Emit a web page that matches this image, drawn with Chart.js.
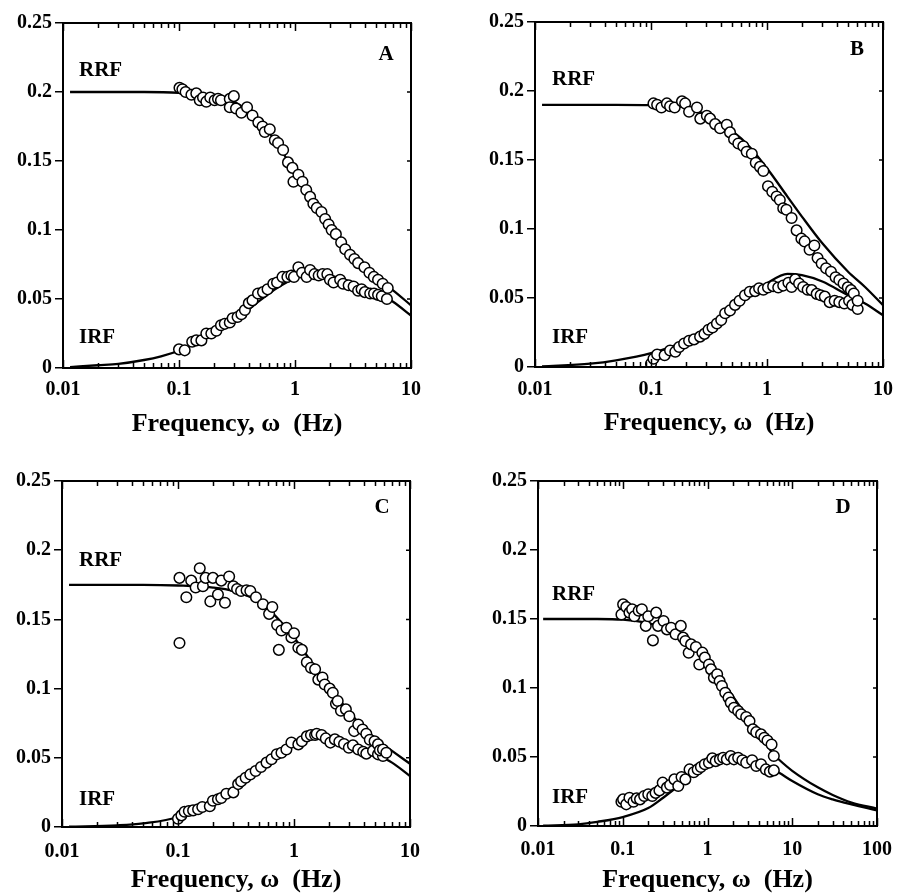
<!DOCTYPE html>
<html>
<head>
<meta charset="utf-8">
<script src="https://cdn.jsdelivr.net/npm/chart.js@4.4.1/dist/chart.umd.min.js"></script>
<style>
  body { margin: 0; background: #fff; }
  #wrap { position: relative; width: 904px; height: 896px; }
  #wrap canvas { position: absolute; }
</style>
</head>
<body>
<div id="wrap">
  <canvas id="panelA" width="452" height="448" style="left:0;top:0"></canvas>
  <canvas id="panelB" width="452" height="448" style="left:452px;top:0"></canvas>
  <canvas id="panelC" width="452" height="448" style="left:0;top:448px"></canvas>
  <canvas id="panelD" width="452" height="448" style="left:452px;top:448px"></canvas>
</div>
<script>
// axis ticks
const yTickValues = [0, 0.05, 0.1, 0.15, 0.2, 0.25];
const yTickLabels = ['0', '0.05', '0.1', '0.15', '0.2', '0.25'];
const xTickValues = [0.01, 0.1, 1, 10, 100];
const xTickLabels = ['0.01', '0.1', '1', '10', '100'];

// measured points [frequency Hz, value]
const rrfA = [[0.101,0.203],[0.107,0.202],[0.114,0.2],[0.128,0.198],[0.141,0.199],[0.151,0.194],[0.161,0.196],[0.172,0.193],[0.186,0.196],[0.203,0.194],[0.217,0.195],[0.23,0.194],[0.274,0.195],[0.297,0.197],[0.274,0.189],[0.31,0.188],[0.345,0.185],[0.386,0.189],[0.43,0.183],[0.483,0.178],[0.525,0.175],[0.549,0.171],[0.606,0.173],[0.67,0.165],[0.715,0.163],[0.79,0.158],[0.87,0.149],[0.95,0.145],[0.97,0.135],[1.07,0.14],[1.16,0.135],[1.25,0.129],[1.35,0.124],[1.44,0.119],[1.54,0.116],[1.69,0.113],[1.82,0.108],[1.95,0.104],[2.07,0.1],[2.25,0.097],[2.5,0.091],[2.71,0.086],[2.98,0.082],[3.25,0.079],[3.5,0.076],[3.97,0.073],[4.38,0.069],[4.78,0.066],[5.2,0.064],[5.7,0.061],[6.3,0.058]];
const irfA = [[0.1,0.0135],[0.112,0.0128],[0.13,0.019],[0.141,0.02],[0.156,0.02],[0.172,0.025],[0.19,0.025],[0.21,0.027],[0.23,0.031],[0.248,0.032],[0.274,0.033],[0.29,0.036],[0.32,0.037],[0.345,0.039],[0.37,0.042],[0.4,0.047],[0.43,0.049],[0.48,0.054],[0.53,0.055],[0.58,0.057],[0.65,0.061],[0.7,0.062],[0.78,0.066],[0.86,0.066],[0.93,0.067],[0.98,0.066],[1.07,0.073],[1.15,0.069],[1.26,0.066],[1.35,0.071],[1.47,0.068],[1.6,0.067],[1.73,0.068],[1.9,0.068],[2.0,0.064],[2.15,0.062],[2.45,0.064],[2.6,0.061],[2.9,0.06],[3.2,0.059],[3.5,0.056],[3.75,0.057],[4.0,0.055],[4.45,0.054],[4.8,0.054],[5.2,0.053],[5.6,0.052],[6.2,0.05]];
const rrfB = [[0.105,0.191],[0.113,0.19],[0.123,0.188],[0.137,0.191],[0.146,0.189],[0.16,0.188],[0.185,0.1925],[0.197,0.191],[0.213,0.185],[0.249,0.188],[0.266,0.18],[0.303,0.182],[0.323,0.18],[0.357,0.176],[0.394,0.173],[0.45,0.1755],[0.48,0.17],[0.52,0.165],[0.566,0.162],[0.625,0.16],[0.668,0.156],[0.74,0.1545],[0.8,0.148],[0.87,0.145],[0.93,0.142],[1.02,0.131],[1.11,0.127],[1.21,0.1235],[1.29,0.121],[1.38,0.115],[1.47,0.114],[1.63,0.108],[1.8,0.099],[1.98,0.093],[2.11,0.091],[2.33,0.085],[2.56,0.088],[2.73,0.079],[2.96,0.075],[3.23,0.0715],[3.56,0.069],[3.9,0.065],[4.2,0.063],[4.57,0.0605],[4.97,0.0577],[5.3,0.0557],[5.6,0.0533],[6.05,0.048]];
const irfB = [[0.1,0.0024],[0.105,0.006],[0.113,0.009],[0.131,0.0085],[0.146,0.012],[0.162,0.011],[0.175,0.0145],[0.193,0.017],[0.213,0.019],[0.235,0.02],[0.265,0.022],[0.289,0.024],[0.313,0.027],[0.339,0.0286],[0.37,0.0315],[0.403,0.034],[0.436,0.039],[0.48,0.041],[0.53,0.045],[0.58,0.048],[0.646,0.052],[0.71,0.0545],[0.79,0.055],[0.855,0.057],[0.93,0.056],[1.02,0.0576],[1.13,0.0586],[1.25,0.0576],[1.38,0.059],[1.53,0.061],[1.63,0.058],[1.75,0.0635],[1.89,0.0605],[2.05,0.058],[2.24,0.056],[2.43,0.0557],[2.68,0.053],[2.9,0.052],[3.15,0.051],[3.47,0.047],[3.83,0.048],[4.2,0.047],[4.64,0.046],[5.1,0.048],[5.45,0.045],[6.05,0.042]];
const rrfC = [[0.103,0.18],[0.103,0.133],[0.118,0.166],[0.13,0.178],[0.142,0.173],[0.154,0.187],[0.164,0.174],[0.173,0.18],[0.19,0.163],[0.2,0.18],[0.221,0.168],[0.236,0.178],[0.254,0.162],[0.276,0.181],[0.3,0.174],[0.323,0.172],[0.35,0.1705],[0.39,0.171],[0.42,0.1705],[0.47,0.166],[0.54,0.161],[0.61,0.154],[0.65,0.159],[0.715,0.146],[0.74,0.128],[0.78,0.142],[0.86,0.144],[0.95,0.137],[1.0,0.14],[1.09,0.1295],[1.17,0.128],[1.29,0.119],[1.4,0.115],[1.52,0.114],[1.62,0.1065],[1.76,0.108],[1.84,0.103],[2.03,0.1],[2.16,0.097],[2.3,0.089],[2.38,0.091],[2.54,0.084],[2.8,0.085],[3.0,0.08],[3.3,0.0693],[3.58,0.074],[3.9,0.0705],[4.2,0.0674],[4.5,0.063],[4.95,0.062],[5.3,0.0597],[5.5,0.0554],[5.85,0.056],[6.25,0.0537]];
const irfC = [[0.1,0.006],[0.107,0.0084],[0.114,0.011],[0.124,0.0116],[0.135,0.012],[0.149,0.0128],[0.162,0.0144],[0.188,0.015],[0.2,0.019],[0.221,0.02],[0.236,0.021],[0.261,0.024],[0.3,0.025],[0.33,0.031],[0.35,0.033],[0.383,0.0356],[0.42,0.038],[0.467,0.0405],[0.52,0.0433],[0.58,0.0465],[0.64,0.049],[0.71,0.0525],[0.78,0.0537],[0.86,0.056],[0.95,0.061],[1.09,0.0597],[1.17,0.062],[1.29,0.0655],[1.4,0.0665],[1.52,0.0665],[1.57,0.0674],[1.73,0.0665],[1.88,0.064],[2.06,0.061],[2.25,0.0633],[2.46,0.0616],[2.7,0.06],[2.97,0.0573],[3.22,0.059],[3.58,0.056],[3.95,0.0544],[4.2,0.053],[4.8,0.055],[5.3,0.0525],[5.85,0.0513]];
const rrfD = [[0.0965,0.1533],[0.101,0.1606],[0.11,0.1587],[0.12,0.1546],[0.129,0.157],[0.137,0.152],[0.154,0.156],[0.168,0.157],[0.187,0.145],[0.2,0.152],[0.227,0.1345],[0.248,0.1546],[0.261,0.145],[0.303,0.1485],[0.332,0.1425],[0.372,0.1437],[0.42,0.139],[0.484,0.145],[0.515,0.1365],[0.548,0.134],[0.6,0.1256],[0.64,0.1316],[0.73,0.1297],[0.8,0.117],[0.87,0.1256],[0.93,0.122],[1.04,0.117],[1.1,0.1135],[1.19,0.1075],[1.3,0.11],[1.39,0.105],[1.48,0.1014],[1.62,0.0966],[1.77,0.093],[1.88,0.0894],[2.05,0.0857],[2.3,0.0833],[2.5,0.081],[2.86,0.079],[3.13,0.076],[3.43,0.07],[3.76,0.068],[4.28,0.0664],[4.68,0.064],[5.1,0.062],[5.7,0.059],[6.06,0.0507]];
const irfD = [[0.0965,0.0176],[0.101,0.0193],[0.11,0.0157],[0.12,0.0205],[0.134,0.0176],[0.146,0.02],[0.16,0.0193],[0.179,0.0217],[0.2,0.023],[0.223,0.0217],[0.244,0.024],[0.271,0.0258],[0.296,0.0314],[0.332,0.0278],[0.362,0.0297],[0.407,0.0338],[0.452,0.029],[0.494,0.0355],[0.548,0.0338],[0.614,0.041],[0.688,0.039],[0.765,0.041],[0.836,0.0427],[0.93,0.0447],[1.04,0.0459],[1.14,0.049],[1.25,0.047],[1.4,0.0483],[1.53,0.0495],[1.69,0.0483],[1.88,0.0507],[2.05,0.0483],[2.3,0.0495],[2.58,0.0476],[2.86,0.0459],[3.36,0.0476],[3.76,0.0435],[4.28,0.0447],[4.88,0.041],[5.45,0.0394],[6.06,0.0403]];

// fitted model curves
const fitRrfA = [[0.0115,0.2],[0.05,0.2],[0.1,0.1993],[0.2,0.1965],[0.3,0.193],[0.5,0.178],[0.7,0.163],[1,0.141],[1.5,0.117],[2,0.102],[3,0.083],[5,0.065],[7,0.0563],[10,0.0454]];
const fitIrfA = [[0.0115,0.0007],[0.02,0.002],[0.03,0.003],[0.05,0.0058],[0.07,0.0085],[0.1,0.0125],[0.15,0.019],[0.2,0.025],[0.3,0.0345],[0.5,0.049],[0.7,0.058],[1,0.065],[1.5,0.068],[2,0.067],[3,0.0625],[5,0.055],[7,0.048],[10,0.038]];
const fitRrfB = [[0.0115,0.19],[0.05,0.19],[0.1,0.1897],[0.2,0.188],[0.3,0.183],[0.5,0.171],[0.7,0.16],[1,0.144],[1.5,0.1235],[2,0.109],[3,0.0896],[5,0.069],[7,0.058],[10,0.0448]];
const fitIrfB = [[0.0115,0.0005],[0.03,0.0024],[0.05,0.0048],[0.1,0.01],[0.2,0.019],[0.3,0.028],[0.5,0.041],[0.7,0.051],[1,0.0605],[1.5,0.0675],[2,0.0666],[3,0.062],[5,0.052],[7,0.046],[10,0.0375]];
const fitRrfC = [[0.0115,0.175],[0.05,0.175],[0.1,0.1745],[0.2,0.173],[0.3,0.1705],[0.5,0.163],[0.7,0.152],[1,0.137],[1.5,0.116],[2,0.102],[3,0.083],[5,0.064],[7,0.055],[10,0.0457]];
const fitIrfC = [[0.0115,0.0002],[0.03,0.0012],[0.05,0.0026],[0.1,0.0072],[0.2,0.02],[0.3,0.0284],[0.5,0.0417],[0.7,0.0513],[1,0.0597],[1.5,0.067],[2,0.0657],[3,0.061],[5,0.0525],[7,0.0465],[10,0.0368]];
const fitRrfD = [[0.0115,0.15],[0.05,0.15],[0.1,0.1495],[0.2,0.147],[0.3,0.1437],[0.5,0.1365],[0.7,0.1297],[1,0.1195],[1.5,0.105],[2,0.094],[3,0.078],[4,0.068],[5,0.059],[6,0.052],[7,0.048],[10,0.04],[20,0.028],[30,0.0225],[50,0.017],[100,0.0126]];
const fitIrfD = [[0.0115,0.0002],[0.03,0.0012],[0.05,0.003],[0.1,0.0065],[0.2,0.013],[0.3,0.0205],[0.5,0.031],[0.7,0.0386],[1,0.0447],[1.5,0.0495],[2,0.05],[3,0.0483],[5,0.0435],[7,0.0386],[10,0.0326],[20,0.023],[30,0.0193],[50,0.0157],[100,0.0114]];

const serif = '"Liberation Serif", "Times New Roman", serif';
Chart.defaults.font.family = serif;
Chart.defaults.font.weight = 'bold';
Chart.defaults.color = '#000';

// box: y-axis width, top padding, right padding, x-axis height (px)
const panels = [
  { id: 'panelA', letter: 'A', rrf: rrfA, irf: irfA, rrfFit: fitRrfA, irfFit: fitIrfA, xMax: 10,
    box: [63, 23, 41, 80], tickPad: 11, titlePad: 8, rrfLab: [16, 53], irfLab: [16, 320], letterLab: [-25, 37] },
  { id: 'panelB', letter: 'B', rrf: rrfB, irf: irfB, rrfFit: fitRrfB, irfFit: fitIrfB, xMax: 10,
    box: [83, 22, 20, 81], tickPad: 12, titlePad: 9, rrfLab: [17, 63], irfLab: [17, 321], letterLab: [-26, 33] },
  { id: 'panelC', letter: 'C', rrf: rrfC, irf: irfC, rrfFit: fitRrfC, irfFit: fitIrfC, xMax: 10,
    box: [62, 33, 42, 69], tickPad: 14, titlePad: 0, rrfLab: [17, 85], irfLab: [17, 324], letterLab: [-28, 32] },
  { id: 'panelD', letter: 'D', rrf: rrfD, irf: irfD, rrfFit: fitRrfD, irfFit: fitIrfD, xMax: 100,
    box: [86, 33, 18, 70], tickPad: 13, titlePad: 0, rrfLab: [14, 119], irfLab: [14, 322], letterLab: [-34, 32] }
];

const toXY = pts => pts.map(([x, y]) => ({ x, y }));

// closed frame, inward log ticks on top/bottom, short ticks on the right, panel texts
const frameTicks = {
  id: 'frameTicks',
  afterDraw(chart, args, opts) {
    const { ctx, chartArea: a, scales: { x, y } } = chart;
    ctx.save();
    ctx.strokeStyle = '#000';
    ctx.lineWidth = 1.5;
    ctx.beginPath();
    const e0 = Math.round(Math.log10(x.min));
    const e1 = Math.round(Math.log10(x.max));
    for (let e = e0; e <= e1; e++) {
      for (let k = 1; k <= 9; k++) {
        if (e === e1 && k > 1) break;
        const px = Math.round(x.getPixelForValue(k * Math.pow(10, e))) + 0.5;
        const len = k === 1 ? 8 : 5;
        ctx.moveTo(px, a.bottom); ctx.lineTo(px, a.bottom - len);
        ctx.moveTo(px, a.top); ctx.lineTo(px, a.top + len);
      }
    }
    yTickValues.forEach(v => {
      const py = y.getPixelForValue(v);
      ctx.moveTo(a.right, py); ctx.lineTo(a.right - 4, py);
    });
    ctx.stroke();
    ctx.lineWidth = 2;
    ctx.strokeRect(a.left, a.top, a.right - a.left, a.bottom - a.top);

    ctx.fillStyle = '#000';
    ctx.textBaseline = 'alphabetic';
    ctx.font = 'bold 21px ' + serif;
    ctx.textAlign = 'left';
    ctx.fillText('RRF', a.left + opts.rrfLab[0], a.top + opts.rrfLab[1]);
    ctx.fillText('IRF', a.left + opts.irfLab[0], a.top + opts.irfLab[1]);
    ctx.textAlign = 'center';
    ctx.fillText(opts.letter, a.right + opts.letterLab[0], a.top + opts.letterLab[1]);
    ctx.restore();
  }
};

const pointStyle = {
  showLine: false,
  pointRadius: 5.3,
  pointBorderWidth: 1.5,
  pointBackgroundColor: '#fff',
  pointBorderColor: '#000',
  order: 0
};
const fitStyle = {
  showLine: true,
  pointRadius: 0,
  borderColor: '#000',
  borderWidth: 2.3,
  cubicInterpolationMode: 'monotone',
  order: 1
};

panels.forEach(p => {
  const [yW, padTop, padRight, xH] = p.box;
  const xTicks = xTickValues.filter(v => v <= p.xMax);
  new Chart(document.getElementById(p.id), {
    type: 'scatter',
    data: {
      datasets: [
        { label: 'RRF', data: toXY(p.rrf), ...pointStyle },
        { label: 'IRF', data: toXY(p.irf), ...pointStyle },
        { label: 'RRF fit', data: toXY(p.rrfFit), ...fitStyle },
        { label: 'IRF fit', data: toXY(p.irfFit), ...fitStyle }
      ]
    },
    options: {
      responsive: false,
      animation: false,
      layout: { padding: { left: 0, top: padTop, right: padRight, bottom: 0 } },
      plugins: {
        legend: { display: false },
        tooltip: { enabled: false },
        frameTicks: { letter: p.letter, rrfLab: p.rrfLab, irfLab: p.irfLab, letterLab: p.letterLab }
      },
      scales: {
        x: {
          type: 'logarithmic',
          min: 0.01,
          max: p.xMax,
          afterBuildTicks: s => { s.ticks = xTicks.map(v => ({ value: v })); },
          afterFit: s => { s.height = xH; },
          grid: { display: false, drawTicks: false },
          border: { display: false },
          ticks: {
            autoSkip: false, maxRotation: 0, padding: p.tickPad - 1,
            font: { size: 20, weight: 'bold' },
            callback: v => xTickLabels[xTickValues.indexOf(v)]
          },
          title: {
            display: true,
            text: 'Frequency, ω  (Hz)',
            font: { size: 26, weight: 'bold' },
            padding: { top: 0, bottom: p.titlePad }
          }
        },
        y: {
          min: 0,
          max: 0.25,
          afterBuildTicks: s => { s.ticks = yTickValues.map(v => ({ value: v })); },
          afterFit: s => { s.width = yW; },
          grid: { drawOnChartArea: false, drawTicks: true, tickLength: 8, color: '#000', lineWidth: 1.5 },
          border: { display: false },
          ticks: {
            padding: 3,
            font: { size: 20, weight: 'bold' },
            callback: v => yTickLabels[yTickValues.indexOf(v)]
          }
        }
      }
    },
    plugins: [frameTicks]
  });
});
</script>
</body>
</html>
